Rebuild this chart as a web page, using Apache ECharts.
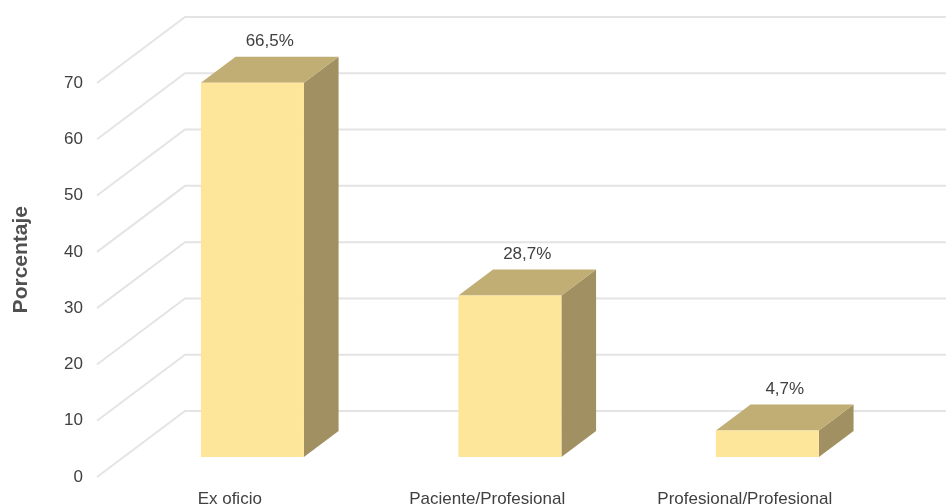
<!DOCTYPE html>
<html>
<head>
<meta charset="utf-8">
<script src="https://cdn.jsdelivr.net/npm/echarts@6/dist/echarts.min.js"></script>
<style>html,body{margin:0;padding:0;background:#fff;}#c{width:946px;height:504px;}</style>
</head>
<body>
<div id="c"></div>
<script>
const categories = ['Ex oficio', 'Paciente/Profesional', 'Profesional/Profesional'];
const values = [66.5, 28.7, 4.7];
const valueLabels = ['66,5%', '28,7%', '4,7%'];
const yTicks = [0, 10, 20, 30, 40, 50, 60, 70];
const yTitle = 'Porcentaje';

const DX = 88, DY = -66;     // depth vector of the floor
const F1 = 0.303, F2 = 0.697; // bar depth range (fraction of depth)
const FONT = '"Liberation Sans", Arial, Helvetica, sans-serif';

const chart = echarts.init(document.getElementById('c'), null, {renderer: 'canvas'});

const option = {
  animation: false,
  backgroundColor: '#ffffff',
  grid: {left: 97, right: 76.5, top: 83, bottom: 27, containLabel: false, outerBoundsMode: 'none'},
  xAxis: {
    type: 'category',
    data: categories,
    axisLine: {show: false},
    axisTick: {show: false},
    axisLabel: {color: '#404040', fontSize: 17, fontFamily: FONT, margin: 14, padding: [0, 0, 0, 8]}
  },
  yAxis: {
    type: 'value',
    min: 0, max: 70, interval: 10,
    axisLine: {show: false},
    axisTick: {show: false},
    splitLine: {show: false},
    axisLabel: {color: '#404040', fontSize: 17, fontFamily: FONT, margin: 14}
  },
  graphic: [{
    type: 'text',
    left: 11, top: 206,
    rotation: Math.PI / 2,
    originX: 0, originY: 0,
    style: {text: yTitle, fill: '#505050', font: 'bold 21px ' + FONT}
  }],
  series: [
    {
      type: 'custom',
      z: 1,
      silent: true,
      clip: false,
      data: yTicks.map(v => [0, v]),
      encode: {x: 0, y: 1},
      renderItem: function (params, api) {
        const p = api.coord([0, api.value(1)]);
        const x0 = params.coordSys.x;
        const y0 = p[1];
        return {
          type: 'polyline',
          shape: {points: [[x0, y0], [x0 + DX, y0 + DY], [api.getWidth() + 5, y0 + DY]]},
          style: {stroke: '#e4e4e4', lineWidth: 2, fill: null}
        };
      }
    },
    {
      type: 'custom',
      z: 2,
      clip: false,
      data: values.map((v, i) => [i, v]),
      encode: {x: 0, y: 1},
      renderItem: function (params, api) {
        const i = api.value(0);
        const base = api.coord([i, 0]);
        const top = api.coord([i, api.value(1)]);
        const bw = api.size([1, 0])[0] * 0.4;
        const fl = base[0] - bw / 2 + F1 * DX;
        const fb = base[1] + F1 * DY;
        const ft = top[1] + F1 * DY;
        const bx = (F2 - F1) * DX, by = (F2 - F1) * DY;
        return {
          type: 'group',
          children: [
            {type: 'polygon', shape: {points: [[fl + bw, ft], [fl + bw + bx, ft + by], [fl + bw + bx, fb + by], [fl + bw, fb]]},
             style: {fill: '#a19061'}},
            {type: 'polygon', shape: {points: [[fl, ft], [fl + bw, ft], [fl + bw + bx, ft + by], [fl + bx, ft + by]]},
             style: {fill: '#c0ae74'}},
            {type: 'rect', shape: {x: fl, y: ft, width: bw, height: fb - ft},
             style: {fill: '#fde59a'}},
            {type: 'text', x: fl + (bw + bx) / 2, y: ft + by - 15,
             style: {text: valueLabels[params.dataIndex], fill: '#404040', font: '17px ' + FONT,
                     textAlign: 'center', textVerticalAlign: 'middle'}}
          ]
        };
      }
    }
  ]
};
chart.setOption(option);
</script>
</body>
</html>
